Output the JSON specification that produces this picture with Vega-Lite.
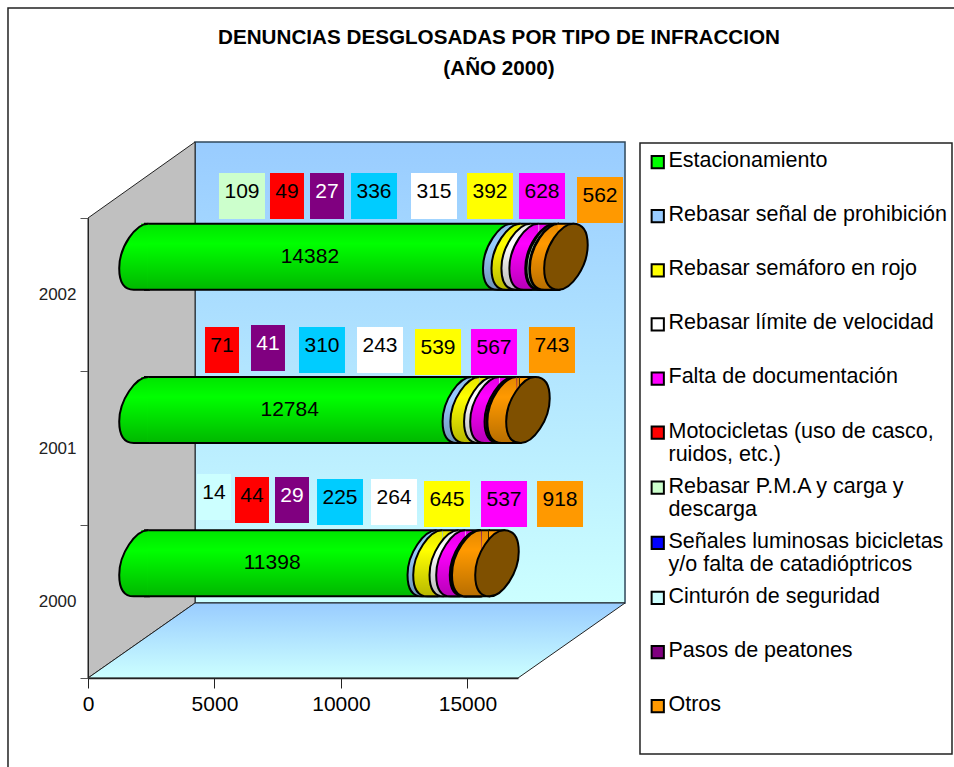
{"$schema":"https://vega.github.io/schema/vega-lite/v6.json","width":430,"height":460,"autosize":{"type":"none"},"padding":{"left":88,"top":218,"right":436,"bottom":89},"background":"white","config":{"view":{"stroke":null},"font":"Liberation Sans"},
"title":{"text":["DENUNCIAS DESGLOSADAS POR TIPO DE INFRACCION","(AÑO 2000)"],"font":"Liberation Sans","fontSize":20.65,"fontWeight":"bold","color":"black","anchor":"middle","frame":"group","dx":196,"baseline":"alphabetic","offset":-88,"lineHeight":31},
"datasets":{
"marcos":[{"x":-3163,"x2":40000,"n":-300,"n2":670},{"x":21823,"x2":34158,"n":-76,"n2":535}],
"pared":[{"x":4231,"x2":21231,"n":75,"n2":536}],
"lateral":[{"x":0,"n":0,"n2":460},{"x":4231,"n":75,"n2":536}],
"suelo":[{"n":75,"x":4231,"x2":21231},{"n":0,"x":0,"x2":17000}],
"denuncias":[
{"anio":2002,"tipo":"Estacionamiento","orden":1,"valor":14382},
{"anio":2002,"tipo":"Rebasar señal de prohibición","orden":2,"valor":336,"xe":11307,"ne":482},
{"anio":2002,"tipo":"Rebasar semáforo en rojo","orden":3,"valor":392,"xe":15893,"ne":482},
{"anio":2002,"tipo":"Rebasar límite de velocidad","orden":4,"valor":315,"xe":13679,"ne":482},
{"anio":2002,"tipo":"Falta de documentación","orden":5,"valor":628,"xe":17949,"ne":482},
{"anio":2002,"tipo":"Motocicletas (uso de casco, ruidos, etc.)","orden":6,"valor":49,"xe":7867,"ne":482},
{"anio":2002,"tipo":"Rebasar P.M.A y carga y descarga","orden":7,"valor":109,"xe":6088,"ne":482},
{"anio":2002,"tipo":"Pasos de peatones","orden":10,"valor":27,"xe":9449,"ne":482},
{"anio":2002,"tipo":"Otros","orden":11,"valor":562,"xe":20242,"ne":478,"base":0},
{"anio":2001,"tipo":"Estacionamiento","orden":1,"valor":12784},
{"anio":2001,"tipo":"Rebasar señal de prohibición","orden":2,"valor":310,"xe":9251,"ne":328},
{"anio":2001,"tipo":"Rebasar semáforo en rojo","orden":3,"valor":539,"xe":13837,"ne":326},
{"anio":2001,"tipo":"Rebasar límite de velocidad","orden":4,"valor":243,"xe":11544,"ne":328},
{"anio":2001,"tipo":"Falta de documentación","orden":5,"valor":567,"xe":16051,"ne":326},
{"anio":2001,"tipo":"Motocicletas (uso de casco, ruidos, etc.)","orden":6,"valor":71,"xe":5298,"ne":328},
{"anio":2001,"tipo":"Pasos de peatones","orden":10,"valor":41,"xe":7116,"ne":330},
{"anio":2001,"tipo":"Otros","orden":11,"valor":743,"xe":18344,"ne":328,"base":0},
{"anio":2000,"tipo":"Estacionamiento","orden":1,"valor":11398},
{"anio":2000,"tipo":"Rebasar señal de prohibición","orden":2,"valor":225,"xe":9963,"ne":176},
{"anio":2000,"tipo":"Rebasar semáforo en rojo","orden":3,"valor":645,"xe":14193,"ne":174},
{"anio":2000,"tipo":"Rebasar límite de velocidad","orden":4,"valor":264,"xe":12098,"ne":176},
{"anio":2000,"tipo":"Falta de documentación","orden":5,"valor":537,"xe":16447,"ne":174},
{"anio":2000,"tipo":"Motocicletas (uso de casco, ruidos, etc.)","orden":6,"valor":44,"xe":6484,"ne":178},
{"anio":2000,"tipo":"Cinturón de seguridad","orden":9,"valor":14,"xe":4981,"ne":181},
{"anio":2000,"tipo":"Pasos de peatones","orden":10,"valor":29,"xe":8065,"ne":178},
{"anio":2000,"tipo":"Otros","orden":11,"valor":918,"xe":18661,"ne":174,"base":0}
]},
"resolve":{"scale":{"x":"independent","y":"independent","fill":"independent"}},
"layer":[
{"data":{"name":"marcos"},"mark":{"type":"rect","fill":"white","stroke":"#222222","strokeWidth":1.5},"encoding":{"x":{"field":"x","type":"quantitative","scale":{"domain":[0,17000],"nice":false},"axis":null},"x2":{"field":"x2"},"y":{"field":"n","type":"quantitative","scale":{"domain":[0,460],"nice":false},"axis":null},"y2":{"field":"n2"}}},
{"data":{"name":"pared"},"mark":{"type":"rect","stroke":"#30485c","strokeWidth":1.5,"fill":{"gradient":"linear","x1":0,"y1":0,"x2":0,"y2":1,"stops":[{"offset":0,"color":"#99ccff"},{"offset":1,"color":"#ccffff"}]}},"encoding":{"x":{"field":"x","type":"quantitative","scale":{"domain":[0,17000],"nice":false},"axis":null},"x2":{"field":"x2"},"y":{"field":"n","type":"quantitative","scale":{"domain":[0,460],"nice":false},"axis":null},"y2":{"field":"n2"}}},
{"data":{"name":"lateral"},"mark":{"type":"area","orient":"vertical","fill":"#c0c0c0","stroke":"#222222","strokeWidth":1},"encoding":{"x":{"field":"x","type":"quantitative","scale":{"domain":[0,17000],"nice":false},"axis":null},"y":{"field":"n","type":"quantitative","scale":{"domain":[0,460],"nice":false},"axis":null},"y2":{"field":"n2"}}},
{"data":{"name":"suelo"},"mark":{"type":"area","orient":"horizontal","stroke":"#222222","strokeWidth":1,"fill":{"gradient":"linear","x1":0,"y1":0,"x2":0,"y2":1,"stops":[{"offset":0,"color":"#99ccff"},{"offset":1,"color":"#ccffff"}]}},"encoding":{"y":{"field":"n","type":"quantitative","scale":{"domain":[0,460],"nice":false},"axis":null},"x":{"field":"x","type":"quantitative","scale":{"domain":[0,17000],"nice":false},"axis":{"values":[0,5000,10000,15000],"grid":false,"title":null,"tickSize":10,"tickColor":"#222222","domainColor":"#222222","domainWidth":1.5,"labelFont":"Liberation Sans","labelFontSize":21,"labelColor":"black","labelPadding":5,"zindex":1,"labelOverlap":false,"labelFlush":false,"format":"d"}},"x2":{"field":"x2"}}},
{"data":{"values":[{"anio":2002},{"anio":2001},{"anio":2000}]},"mark":{"type":"rule","opacity":0},"encoding":{"y":{"field":"anio","type":"ordinal","scale":{"type":"band","domain":[2002,2001,2000],"paddingInner":0,"paddingOuter":0},"axis":{"title":null,"tickBand":"extent","tickSize":8,"tickColor":"#555555","domainColor":"#222222","labelFont":"Liberation Sans","labelFontSize":17,"labelColor":"#222222","labelPadding":4,"labelAngle":0,"zindex":1}}}},
{"data":{"name":"denuncias"},"transform":[{"filter":"datum.tipo !== 'Estacionamiento' && datum.valor >= 100"}],"mark":{"type":"rect","width":46,"height":46},"encoding":{"x":{"field":"xe","type":"quantitative","scale":{"domain":[0,17000],"nice":false},"axis":null},"y":{"field":"ne","type":"quantitative","scale":{"domain":[0,460],"nice":false},"axis":null},"fill":{"field":"tipo","type":"nominal","legend":null,"scale":{"domain":["Rebasar señal de prohibición","Rebasar semáforo en rojo","Rebasar límite de velocidad","Falta de documentación","Motocicletas (uso de casco, ruidos, etc.)","Rebasar P.M.A y carga y descarga","Cinturón de seguridad","Pasos de peatones","Otros"],"range":["#00ccff","#ffff00","#ffffff","#ff00ff","#ff0000","#ccffcc","#ccffff","#800080","#ff9900"]}}}},
{"data":{"name":"denuncias"},"transform":[{"filter":"datum.tipo !== 'Estacionamiento' && datum.valor < 100"}],"mark":{"type":"rect","width":34,"height":46},"encoding":{"x":{"field":"xe","type":"quantitative","scale":{"domain":[0,17000],"nice":false},"axis":null},"y":{"field":"ne","type":"quantitative","scale":{"domain":[0,460],"nice":false},"axis":null},"fill":{"field":"tipo","type":"nominal","legend":null,"scale":{"domain":["Rebasar señal de prohibición","Rebasar semáforo en rojo","Rebasar límite de velocidad","Falta de documentación","Motocicletas (uso de casco, ruidos, etc.)","Rebasar P.M.A y carga y descarga","Cinturón de seguridad","Pasos de peatones","Otros"],"range":["#00ccff","#ffff00","#ffffff","#ff00ff","#ff0000","#ccffcc","#ccffff","#800080","#ff9900"]}}}},
{"data":{"name":"denuncias"},"transform":[{"filter":"datum.tipo !== 'Estacionamiento'"}],"mark":{"type":"text","font":"Liberation Sans","fontSize":21,"baseline":"middle","dy":-4},"encoding":{"x":{"field":"xe","type":"quantitative","scale":{"domain":[0,17000],"nice":false},"axis":null},"y":{"field":"ne","type":"quantitative","scale":{"domain":[0,460],"nice":false},"axis":null},"text":{"field":"valor","type":"nominal"},"color":{"condition":{"test":"datum.tipo === 'Pasos de peatones'","value":"white"},"value":"black"}}},
{"data":{"name":"denuncias"},"transform":[{"stack":"valor","groupby":["anio"],"sort":[{"field":"orden","order":"ascending"}],"as":["ini","fin"]}],
"encoding":{"y":{"field":"anio","type":"ordinal","scale":{"type":"band","domain":[2002,2001,2000],"range":[-38,422],"paddingInner":0,"paddingOuter":0},"axis":null}},
"layer":[
{"mark":{"type":"rect","height":66,"x2Offset":-8},"encoding":{"x":{"field":"ini","type":"quantitative","scale":{"domain":[0,17000],"range":[53,483],"clamp":true,"nice":false},"axis":null},"x2":{"field":"fin"},
"fill":{"field":"tipo","type":"nominal","scale":{"domain":["Estacionamiento","Rebasar señal de prohibición","Rebasar semáforo en rojo","Rebasar límite de velocidad","Falta de documentación","Motocicletas (uso de casco, ruidos, etc.)","Rebasar P.M.A y carga y descarga","Señales luminosas bicicletas y/o falta de catadióptricos","Cinturón de seguridad","Pasos de peatones","Otros"],"range":["#00ff00","#99ccff","#ffff00","#ffffff","#ff00ff","#ff0000","#ccffcc","#0000ff","#ccffff","#800080","#ff9900"]},
"legend":{"title":null,"orient":"none","legendX":559,"legendY":-78,"zindex":1,"padding":0,"rowPadding":0.1,"clipHeight":54,"symbolType":"M-1,-1.8H1V0.2H-1Z","symbolSize":150,"symbolStrokeColor":"black","symbolStrokeWidth":2,"labelFont":"Liberation Sans","labelFontSize":21.5,"labelColor":"black","labelOffset":0,"labelLimit":320,"labelBaseline":"alphabetic","labelExpr":"datum.label === 'Motocicletas (uso de casco, ruidos, etc.)' ? ['Motocicletas (uso de casco,','ruidos, etc.)'] : datum.label === 'Rebasar P.M.A y carga y descarga' ? ['Rebasar P.M.A y carga y','descarga'] : datum.label === 'Señales luminosas bicicletas y/o falta de catadióptricos' ? ['Señales luminosas bicicletas','y/o falta de catadióptricos'] : datum.label","symbolOpacity":1}}}},
{"transform":[{"filter":"datum.tipo !== 'Otros'"}],"mark":{"type":"rect","height":66,"x2Offset":8},"encoding":{"x":{"field":"ini","type":"quantitative","axis":null},"x2":{"field":"fin"},"order":{"field":"orden","type":"quantitative","sort":"descending"},"fill":{"field":"tipo","type":"nominal","legend":null}}},
{"transform":[{"filter":"datum.tipo === 'Otros'"}],"mark":{"type":"rect","height":66,"fillOpacity":0,"stroke":"black","strokeWidth":2,"xOffset":4,"x2Offset":-8},"encoding":{"x":{"field":"base","type":"quantitative","axis":null},"x2":{"field":"fin"}}},
{"mark":{"type":"point","shape":"M0.22,-1 C-0.16,-1 -0.66,-0.3 -0.66,0.35 C-0.66,0.8 -0.5,1 -0.22,1 L0.27,1","size":4356,"stroke":"black","strokeWidth":2,"opacity":1,"filled":true},"encoding":{"x":{"field":"ini","type":"quantitative","axis":null},"order":{"field":"orden","type":"quantitative","sort":"ascending"},"fill":{"field":"tipo","type":"nominal","legend":null}}},
{"transform":[{"filter":"datum.tipo === 'Otros'"}],"mark":{"type":"point","shape":"M-0.25,-1 L0.22,-1 L-0.22,1 L-0.25,1","size":4356,"stroke":"black","strokeWidth":2,"opacity":1,"filled":true,"fill":"#ff9900"},"encoding":{"x":{"field":"fin","type":"quantitative","axis":null}}},
{"transform":[{"filter":"datum.tipo === 'Otros'"}],"mark":{"type":"rect","height":65,"xOffset":7,"x2Offset":-8,"fill":{"gradient":"linear","x1":0,"y1":0,"x2":0,"y2":1,"stops":[{"offset":0,"color":"rgba(0,0,0,0.1)"},{"offset":0.3,"color":"rgba(0,0,0,0)"},{"offset":1,"color":"rgba(0,0,0,0.28)"}]}},"encoding":{"x":{"field":"base","type":"quantitative","axis":null},"x2":{"field":"fin"}}},
{"transform":[{"filter":"datum.tipo === 'Otros'"}],"mark":{"type":"point","shape":"M0.21,-0.97 C-0.16,-0.97 -0.64,-0.3 -0.64,0.35 C-0.64,0.8 -0.5,0.98 -0.22,0.98 L0.21,0.98 Z","size":4356,"opacity":1,"filled":true,"fill":{"gradient":"linear","x1":0,"y1":0,"x2":0,"y2":1,"stops":[{"offset":0,"color":"rgba(0,0,0,0.1)"},{"offset":0.3,"color":"rgba(0,0,0,0)"},{"offset":1,"color":"rgba(0,0,0,0.28)"}]}},"encoding":{"x":{"field":"base","type":"quantitative","axis":null}}},
{"transform":[{"filter":"datum.tipo === 'Otros'"}],"mark":{"type":"point","shape":"M0.22,-1 C0.5,-1 0.66,-0.8 0.66,-0.35 C0.66,0.3 0.16,1 -0.22,1 C-0.5,1 -0.66,0.8 -0.66,0.35 C-0.66,-0.3 -0.16,-1 0.22,-1 Z","size":4356,"fill":"#7f5000","stroke":"black","strokeWidth":2,"opacity":1,"filled":true},"encoding":{"x":{"field":"fin","type":"quantitative","axis":null}}}
]},
{"data":{"name":"denuncias"},"transform":[{"filter":"datum.tipo === 'Estacionamiento'"}],"mark":{"type":"text","font":"Liberation Sans","fontSize":21,"baseline":"middle","color":"black"},"encoding":{"x":{"field":"valor","type":"quantitative","scale":{"domain":[0,34000],"range":[40,470],"nice":false},"axis":null},"y":{"field":"anio","type":"ordinal","scale":{"type":"band","domain":[2002,2001,2000],"range":[-38,422],"paddingInner":0,"paddingOuter":0},"axis":null},"text":{"field":"valor","type":"nominal"}}}
]}
